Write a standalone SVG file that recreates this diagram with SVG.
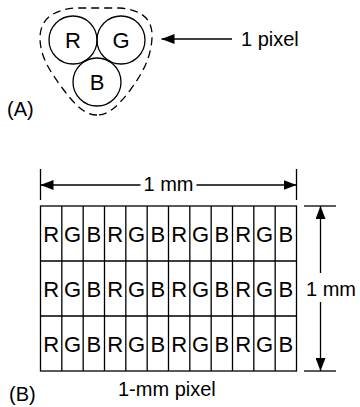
<svg xmlns="http://www.w3.org/2000/svg" width="360" height="407" viewBox="0 0 360 407">
<defs>
<style>
.ln{stroke:#000;stroke-width:1.3;fill:none}
.t{font-family:"Liberation Sans",Arial,sans-serif;fill:#000}
.lbl{font-size:20px}
.cell{font-size:22px;text-anchor:middle}
</style>
<marker id="ah" viewBox="0 0 13 10" refX="13" refY="5" markerWidth="13" markerHeight="10" markerUnits="userSpaceOnUse" orient="auto">
<path d="M0,0 L13,5 L0,10 Z" fill="#000"/>
</marker>
</defs>
<rect width="360" height="407" fill="#fff"/>

<g id="pixel-a">
<path class="ln" stroke-dasharray="8,5" d="M97,115 C85,115 75,105 63,89 C52,74 40,58 40,38 C40,20 52,10 75,8 L120,8 C143,10 153,20 152,38 C151,58 142,74 131,89 C119,105 109,115 97,115 Z"/>
<circle class="ln" cx="73" cy="40" r="24"/>
<circle class="ln" cx="121" cy="40" r="24"/>
<circle class="ln" cx="97" cy="82" r="24"/>
<text class="t" x="73" y="48" font-size="22" text-anchor="middle">R</text>
<text class="t" x="121" y="48" font-size="22" text-anchor="middle">G</text>
<text class="t" x="97" y="90" font-size="22" text-anchor="middle">B</text>
</g>

<g id="label-a"><text class="t lbl" x="7" y="116">(A)</text></g>
<g id="label-pixel"><text class="t lbl" x="241" y="46">1 pixel</text></g>

<g id="grid-b">
<rect class="ln" x="40.5" y="206" width="256" height="165"/>
<path class="ln" d="M40.5,261H296.5M40.5,316H296.5M61.83,206V371M83.17,206V371M104.5,206V371M125.83,206V371M147.17,206V371M168.5,206V371M189.83,206V371M211.17,206V371M232.5,206V371M253.83,206V371M275.17,206V371"/>
<g class="t cell">
<text x="51.2" y="241.5">R</text><text x="72.5" y="241.5">G</text><text x="93.8" y="241.5">B</text><text x="115.2" y="241.5">R</text><text x="136.5" y="241.5">G</text><text x="157.8" y="241.5">B</text><text x="179.2" y="241.5">R</text><text x="200.5" y="241.5">G</text><text x="221.8" y="241.5">B</text><text x="243.2" y="241.5">R</text><text x="264.5" y="241.5">G</text><text x="285.8" y="241.5">B</text>
<text x="51.2" y="296.5">R</text><text x="72.5" y="296.5">G</text><text x="93.8" y="296.5">B</text><text x="115.2" y="296.5">R</text><text x="136.5" y="296.5">G</text><text x="157.8" y="296.5">B</text><text x="179.2" y="296.5">R</text><text x="200.5" y="296.5">G</text><text x="221.8" y="296.5">B</text><text x="243.2" y="296.5">R</text><text x="264.5" y="296.5">G</text><text x="285.8" y="296.5">B</text>
<text x="51.2" y="351.5">R</text><text x="72.5" y="351.5">G</text><text x="93.8" y="351.5">B</text><text x="115.2" y="351.5">R</text><text x="136.5" y="351.5">G</text><text x="157.8" y="351.5">B</text><text x="179.2" y="351.5">R</text><text x="200.5" y="351.5">G</text><text x="221.8" y="351.5">B</text><text x="243.2" y="351.5">R</text><text x="264.5" y="351.5">G</text><text x="285.8" y="351.5">B</text>
</g>
</g>

<g id="dim-top-label"><text class="t lbl" x="168.5" y="191" text-anchor="middle">1 mm</text></g>
<g id="dim-right-label"><text class="t lbl" x="306" y="296">1 mm</text></g>
<g id="label-b"><text class="t lbl" x="9" y="401">(B)</text></g>
<g id="label-mm-pixel"><text class="t lbl" x="118" y="396">1-mm pixel</text></g>

<g id="connectors">
<line class="ln" x1="232" y1="39" x2="161.5" y2="39" marker-end="url(#ah)"/>
<line class="ln" x1="40.5" y1="169" x2="40.5" y2="200"/>
<line class="ln" x1="296.5" y1="169" x2="296.5" y2="200"/>
<line class="ln" x1="140.5" y1="185" x2="40.5" y2="185" marker-end="url(#ah)"/>
<line class="ln" x1="196.5" y1="185" x2="296.5" y2="185" marker-end="url(#ah)"/>
<line class="ln" x1="304" y1="206" x2="336" y2="206"/>
<line class="ln" x1="304" y1="371" x2="336" y2="371"/>
<line class="ln" x1="320.5" y1="273" x2="320.5" y2="206" marker-end="url(#ah)"/>
<line class="ln" x1="320.5" y1="302" x2="320.5" y2="371" marker-end="url(#ah)"/>
</g>
</svg>
